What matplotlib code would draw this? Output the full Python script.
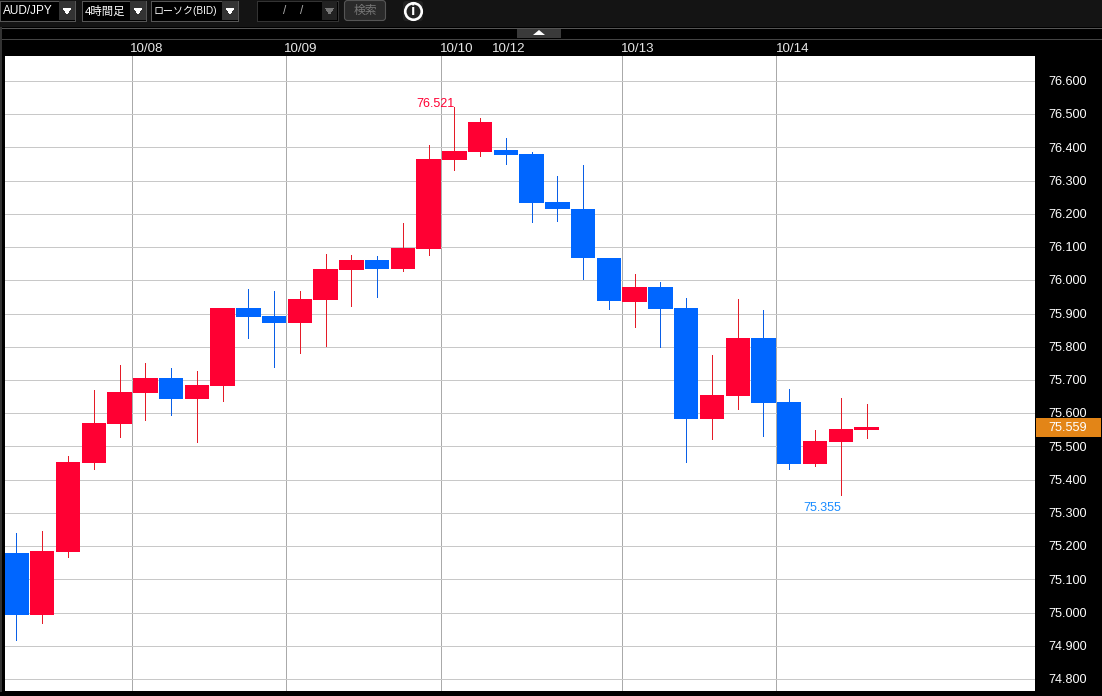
"""AUD/JPY 4-hour candlestick chart with the dealing-screen toolbar."""

import matplotlib

matplotlib.use("Agg")
import matplotlib.pyplot as plt
from matplotlib.patches import FancyBboxPatch, Polygon, Rectangle

plt.rcParams["font.family"] = ["Liberation Sans", "Noto Sans CJK JP", "DejaVu Sans"]
plt.rcParams["lines.antialiased"] = False
plt.rcParams["patch.antialiased"] = False

WIDTH, HEIGHT = 1102, 696
RED = "#ff0033"
BLUE = "#0066ff"
RED_WICK = "#e41c28"
BLUE_WICK = "#0a5fe6"

opens = [75.179, 74.993, 75.182, 75.450, 75.567, 75.660, 75.706, 75.643, 75.682,
         75.917, 75.893, 75.872, 75.941, 76.031, 76.061, 76.034, 76.094, 76.362,
         76.386, 76.392, 76.380, 76.236, 76.215, 76.067, 75.935, 75.980, 75.917,
         75.583, 75.652, 75.826, 75.634, 75.447, 75.513, 75.550]
highs = [75.239, 75.245, 75.471, 75.670, 75.745, 75.751, 75.736, 75.727, 75.917,
         75.974, 75.968, 75.968, 76.079, 76.076, 76.073, 76.172, 76.407, 76.521,
         76.489, 76.428, 76.386, 76.314, 76.347, 76.067, 76.019, 75.995, 75.947,
         75.775, 75.944, 75.911, 75.673, 75.549, 75.646, 75.628]
lows = [74.917, 74.968, 75.167, 75.432, 75.528, 75.580, 75.595, 75.513, 75.637,
        75.826, 75.739, 75.781, 75.802, 75.923, 75.950, 76.028, 76.076, 76.332,
        76.374, 76.350, 76.176, 76.179, 76.004, 75.914, 75.860, 75.800, 75.453,
        75.522, 75.613, 75.531, 75.432, 75.441, 75.355, 75.525]
closes = [74.993, 75.185, 75.453, 75.570, 75.664, 75.706, 75.643, 75.685, 75.917,
          75.890, 75.872, 75.944, 76.034, 76.061, 76.034, 76.097, 76.365, 76.389,
          76.477, 76.377, 76.233, 76.215, 76.067, 75.938, 75.980, 75.914, 75.583,
          75.655, 75.826, 75.631, 75.447, 75.516, 75.552, 75.559]

price_ticks = [74.8, 74.9, 75.0, 75.1, 75.2, 75.3, 75.4, 75.5, 75.6, 75.7, 75.8,
               75.9, 76.0, 76.1, 76.2, 76.3, 76.4, 76.5, 76.6]
day_lines = [4.5, 10.48, 16.48, 23.5, 29.48]
day_labels = ["10/08", "10/09", "10/10", "10/12", "10/13", "10/14"]
day_label_x = [147, 301, 457, 509, 638, 793]
last_price = 75.559
max_price = 76.521
min_price = 75.355

fig = plt.figure(figsize=(WIDTH / 100, HEIGHT / 100), dpi=100, facecolor="black")

# chart area, pixel box x 5-1035, y 56-691
ax = fig.add_axes([5 / WIDTH, 1 - 691 / HEIGHT, 1030 / WIDTH, 635 / HEIGHT], facecolor="white")
ax.set_xlim(-0.446, 39.54)
ax.set_ylim(74.764, 76.675)
ax.set_yticks(price_ticks)
ax.set_xticks(day_lines)
ax.grid(axis="y", color="#c8c8c8", lw=0.72, zorder=1)
ax.grid(axis="x", color="#aaaaaa", lw=0.72, zorder=1)
ax.tick_params(left=False, bottom=False, labelleft=False, labelbottom=False)
for spine in ax.spines.values():
    spine.set_visible(False)

for i, (o, h, l, c) in enumerate(zip(opens, highs, lows, closes)):
    up = c >= o
    ax.vlines(i, l, h, color=RED_WICK if up else BLUE_WICK, lw=0.72, zorder=2, antialiased=False)
    ax.bar(i, abs(c - o), bottom=min(o, c), width=0.95, color=RED if up else BLUE, lw=0, zorder=3)

ax.annotate(f"{max_price:.3f}", (17, max_price), xytext=(0, 0), textcoords="offset points",
            color=RED, fontsize=9, ha="right", va="baseline", zorder=4)
ax.annotate(f"{min_price:.3f}", (32, min_price), xytext=(0, -11.5), textcoords="offset points",
            color="#1a8cff", fontsize=9, ha="right", va="baseline", zorder=4)

# toolbar and frame drawn on a pixel-sized overlay
ui = fig.add_axes([0, 0, 1, 1], facecolor="none")
ui.set_xlim(0, WIDTH)
ui.set_ylim(HEIGHT, 0)
ui.axis("off")

ui.add_patch(Rectangle((0, 0), WIDTH, 27, fc="#141414", ec="none"))


def dropdown(x0, x1, label, size=8.5, arrow_w=16):
    ui.add_patch(Rectangle((x0, 0.5), x1 - x0, 20, fc="black", ec="#555555", lw=0.72))
    ui.add_patch(Rectangle((x1 - arrow_w, 1), arrow_w, 19, fc="#333333", ec="none"))
    mid = x1 - arrow_w / 2
    ui.add_patch(Polygon([(mid - 4, 8), (mid + 4, 8), (mid, 14)], fc="white", ec="none"))
    ui.text(x0 + 3, 11, label, color="white", fontsize=size, va="center", ha="left")


dropdown(0, 75, "AUD/JPY")
dropdown(82, 146, "4時間足", size=8.2)
dropdown(151, 238, "ローソク(BID)", size=7.2)

ui.add_patch(Rectangle((256.5, 0.5), 81, 20, fc="black", ec="#333333", lw=0.72))
ui.add_patch(Rectangle((322, 1), 15, 19, fc="#222222", ec="none"))
ui.add_patch(Polygon([(325.5, 8), (333.5, 8), (329.5, 14)], fc="#777777", ec="none"))
ui.text(285, 11, "/", color="#aaaaaa", fontsize=8.5, ha="center", va="center")
ui.text(302, 11, "/", color="#aaaaaa", fontsize=8.5, ha="center", va="center")

ui.add_patch(FancyBboxPatch((346, 2), 38, 17, boxstyle="round,pad=1.5,rounding_size=3",
                            fc="#2a2a2a", ec="#555555", lw=0.8, antialiased=True))
ui.text(365, 11, "検索", color="#777777", fontsize=8.5, ha="center", va="center")

ui.add_patch(FancyBboxPatch((404, 2), 18, 18, boxstyle="round,pad=1,rounding_size=3",
                            fc="#222222", ec="none", antialiased=True))
ui.scatter([413], [11], s=190, color="white", lw=0)
ui.scatter([413], [11], s=100, color="#222222", lw=0)
ui.text(413, 11, "i", color="white", fontsize=11, fontweight="bold", ha="center", va="center")

ui.plot([0, WIDTH], [27.5, 27.5], color="#555555", lw=0.72)
ui.plot([0, WIDTH], [38.5, 38.5], color="#444444", lw=0.72)
ui.plot([1, 1], [28, 691], color="#333333", lw=1.4)
ui.add_patch(Rectangle((517, 28), 44, 10, fc="#3a3a3a", ec="none"))
ui.add_patch(Polygon([(533, 35), (545, 35), (539, 30)], fc="white", ec="none", antialiased=True))

for label, x in zip(day_labels, day_label_x):
    ui.text(x, 48.5, label, color="#e6e6e6", fontsize=9.6, ha="center", va="center")

for tick in price_ticks:
    y = HEIGHT - ax.transData.transform((0, tick))[1]
    ui.text(1048, y + 1.2, f"{tick:.3f}", color="white", fontsize=9.1, ha="left", va="center")

tag_y = HEIGHT - ax.transData.transform((0, last_price))[1]
ui.add_patch(Rectangle((1036, tag_y - 8.8), 65, 19, fc="#e38517", ec="none"))
ui.text(1048, tag_y + 1.2, f"{last_price:.3f}", color="white", fontsize=9.1, ha="left", va="center")

fig.savefig("out.png", dpi=100, facecolor=fig.get_facecolor())
